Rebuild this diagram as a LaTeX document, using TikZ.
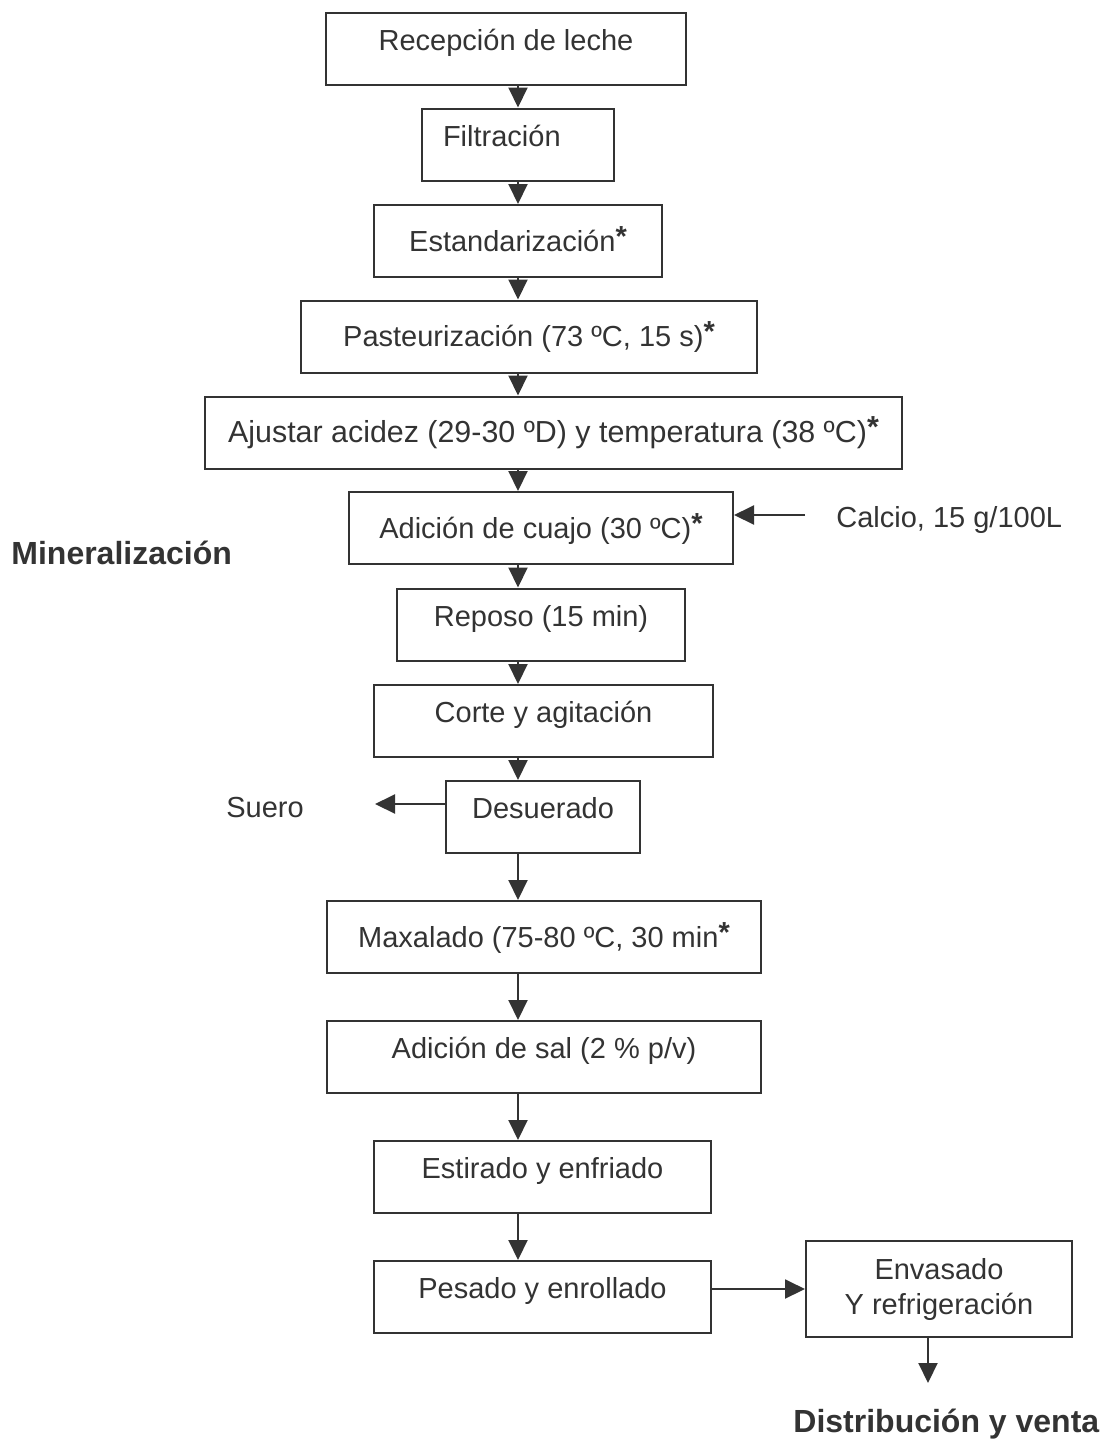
\documentclass[tikz,border=0pt]{standalone}
\usepackage{fontspec}
\setmainfont{Liberation Sans}
\usetikzlibrary{arrows.meta}
\definecolor{tinta}{HTML}{333333}
\newcommand{\marca}{\raisebox{2.5pt}{\bfseries *}}

\begin{document}
\begin{tikzpicture}[x=0.5pt, y=-0.5pt, text=tinta, font=\fontsize{14.5}{17.5}\selectfont,
	caja/.style={draw=tinta, line width=1pt, minimum height=36pt, inner sep=0pt, text height=12pt, text depth=1.6pt},
	cajasub/.style={caja, text height=11pt, text depth=9.1pt},
	rotulo/.style={anchor=base west, inner sep=0pt},
	titulo/.style={rotulo, font=\fontsize{16}{19}\selectfont\bfseries},
	flecha/.style={draw=tinta, line width=1pt, -{Triangle[length=10pt, width=9.5pt]}}]
	\useasboundingbox (0,0) rectangle (1099,1441);
	\coordinate (eje) at (518,0);
	\node[cajasub, minimum width=180pt] (recepcion) at (506,48.5) {Recepción de leche};
	\node[cajasub, text width=75pt, inner xsep=10.5pt, align=left] (filtracion) at (518,144.5) {Filtración};
	\node[caja, minimum width=144pt] (estandar) at (518,241) {Estandarización\marca};
	\node[caja, minimum width=228pt] (pasteur) at (529,336.5) {Pasteurización (73 ºC, 15 s)\marca};
	\node[caja, minimum width=348.5pt, font=\fontsize{15.2}{18}\selectfont] (ajuste) at (553.5,432.5) {Ajustar acidez (29-30 ºD) y temperatura (38 ºC)\marca};
	\node[caja, minimum width=192pt] (cuajo) at (541,528) {Adición de cuajo (30 ºC)\marca};
	\node[cajasub, minimum width=144pt] (reposo) at (541,624.5) {Reposo (15 min)};
	\node[cajasub, minimum width=169.5pt] (corte) at (543.5,721) {Corte y agitación};
	\node[cajasub, minimum width=96.75pt] (desuerado) at (543,817) {Desuerado};
	\node[caja, minimum width=217pt] (maxalado) at (544,937) {Maxalado (75-80 ºC, 30 min\marca};
	\node[cajasub, minimum width=217pt] (sal) at (544,1057) {Adición de sal (2 \% p/v)};
	\node[cajasub, minimum width=168.5pt] (estirado) at (542.5,1177) {Estirado y enfriado};
	\node[cajasub, minimum width=168.5pt] (pesado) at (542.5,1297) {Pesado y enrollado};
	\node[draw=tinta, line width=1pt, minimum width=133pt, minimum height=48pt, align=center] (envasado) at (939,1289) {Envasado\\Y refrigeración};
	\node[rotulo] (calcio) at (836,527) {Calcio, 15 g/100L};
	\node[rotulo] (suero) at (226,817) {Suero};
	\node[titulo] (mineral) at (11,564) {Mineralización};
	\node[titulo] (distrib) at (793,1432) {Distribución y venta};
	\coordinate (entrada) at (805,515);
	\coordinate (salida) at (375,804);
	\coordinate (fin) at (928,1383);
	\draw[flecha] (recepcion.south -| eje) -- (filtracion.north -| eje);
	\draw[flecha] (filtracion.south -| eje) -- (estandar.north -| eje);
	\draw[flecha] (estandar.south -| eje) -- (pasteur.north -| eje);
	\draw[flecha] (pasteur.south -| eje) -- (ajuste.north -| eje);
	\draw[flecha] (ajuste.south -| eje) -- (cuajo.north -| eje);
	\draw[flecha] (cuajo.south -| eje) -- (reposo.north -| eje);
	\draw[flecha] (reposo.south -| eje) -- (corte.north -| eje);
	\draw[flecha] (corte.south -| eje) -- (desuerado.north -| eje);
	\draw[flecha] (desuerado.south -| eje) -- (maxalado.north -| eje);
	\draw[flecha] (maxalado.south -| eje) -- (sal.north -| eje);
	\draw[flecha] (sal.south -| eje) -- (estirado.north -| eje);
	\draw[flecha] (estirado.south -| eje) -- (pesado.north -| eje);
	\draw[flecha] (entrada) -- (entrada -| cuajo.east);
	\draw[flecha] (desuerado.west |- salida) -- (salida);
	\draw[flecha] (envasado.west -| pesado.east) -- (envasado.west);
	\draw[flecha] (fin |- envasado.south) -- (fin);
\end{tikzpicture}
\end{document}
